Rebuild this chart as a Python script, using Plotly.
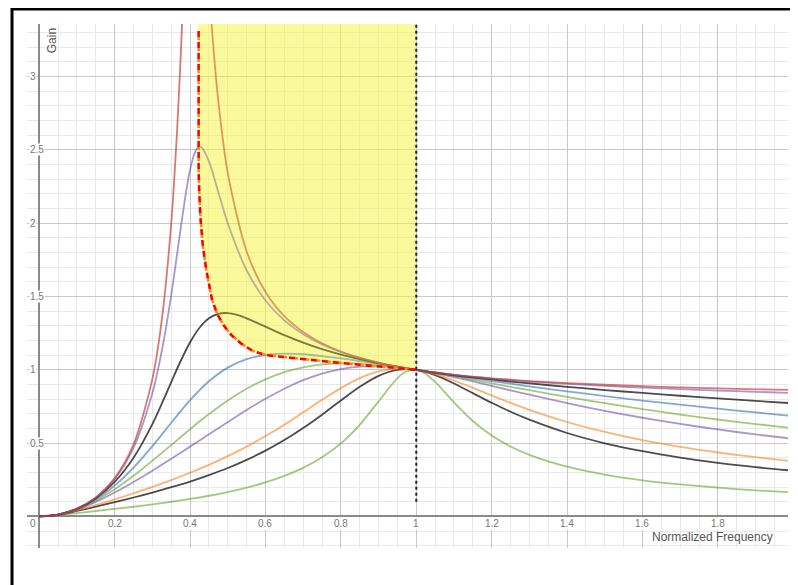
import plotly.graph_objects as go

# ---------------- data ----------------
X_STD = [0, 0.05, 0.1, 0.15, 0.2, 0.25, 0.3, 0.35, 0.4, 0.45, 0.5, 0.55, 0.6, 0.65, 0.7,
         0.75, 0.8, 0.85, 0.9, 0.95, 1.0, 1.05, 1.1, 1.15, 1.2, 1.25, 1.3, 1.4, 1.5, 1.6,
         1.7, 1.8, 1.9, 1.99]

red_x = [0, 0.05, 0.1, 0.15, 0.2, 0.25, 0.3, 0.325, 0.35, 0.365, 0.375, 0.38, 0.39, 0.4,
         0.408, 0.42, 0.43, 0.45, 0.46, 0.475, 0.5, 0.55, 0.6, 0.65, 0.7, 0.75, 0.8, 0.85,
         0.9, 0.95, 1.0, 1.05, 1.1, 1.15, 1.2, 1.25, 1.3, 1.4, 1.5, 1.6, 1.7, 1.8, 1.9, 1.99]
red_y = [0, 0.013, 0.053, 0.130, 0.261, 0.491, 0.938, 1.340, 2.0, 2.607, 3.132, 3.431, 4.065,
         4.632, 4.895, 4.83, 4.475, 3.616, 3.256, 2.829, 2.341, 1.807, 1.531, 1.366, 1.258,
         1.181, 1.125, 1.083, 1.049, 1.022, 1.0, 0.982, 0.966, 0.953, 0.942, 0.932, 0.923,
         0.909, 0.898, 0.888, 0.880, 0.873, 0.867, 0.863]

purple1_x = [0, 0.05, 0.1, 0.15, 0.2, 0.25, 0.3, 0.325, 0.35, 0.375, 0.39, 0.4, 0.41, 0.42,
             0.43, 0.45, 0.475, 0.5, 0.55, 0.6, 0.65, 0.7, 0.75, 0.8, 0.85, 0.9, 0.95, 1.0,
             1.05, 1.1, 1.15, 1.2, 1.25, 1.3, 1.4, 1.5, 1.6, 1.7, 1.8, 1.9, 1.99]
purple1_y = [0, 0.013, 0.053, 0.128, 0.255, 0.468, 0.841, 1.130, 1.510, 1.963, 2.224, 2.364,
             2.463, 2.514, 2.518, 2.421, 2.211, 2.0, 1.679, 1.473, 1.337, 1.242, 1.173, 1.121,
             1.081, 1.048, 1.022, 1.0, 0.982, 0.966, 0.952, 0.940, 0.930, 0.920, 0.904, 0.890,
             0.878, 0.868, 0.858, 0.850, 0.842]

black1_x = [0, 0.05, 0.1, 0.15, 0.2, 0.25, 0.3, 0.325, 0.35, 0.375, 0.4, 0.425, 0.45, 0.475,
            0.5, 0.525, 0.55, 0.6, 0.65, 0.7, 0.75, 0.8, 0.85, 0.9, 0.95, 1.0, 1.05, 1.1,
            1.15, 1.2, 1.25, 1.3, 1.4, 1.5, 1.6, 1.7, 1.8, 1.9, 1.99]
black1_y = [0, 0.013, 0.052, 0.123, 0.235, 0.400, 0.630, 0.769, 0.916, 1.060, 1.188, 1.287,
            1.351, 1.382, 1.387, 1.374, 1.351, 1.294, 1.236, 1.185, 1.141, 1.104, 1.073,
            1.045, 1.021, 1.0, 0.981, 0.964, 0.948, 0.934, 0.920, 0.907, 0.884, 0.862, 0.842,
            0.823, 0.805, 0.788, 0.773]

blue_y = [0, 0.013, 0.051, 0.116, 0.210, 0.332, 0.479, 0.639, 0.793, 0.922, 1.015, 1.073,
          1.101, 1.110, 1.106, 1.094, 1.078, 1.060, 1.040, 1.020, 1.0, 0.980, 0.961, 0.942,
          0.923, 0.905, 0.887, 0.853, 0.821, 0.790, 0.762, 0.735, 0.709, 0.687]

green1_y = [0, 0.012, 0.049, 0.108, 0.185, 0.277, 0.380, 0.487, 0.595, 0.698, 0.791, 0.871,
            0.935, 0.984, 1.017, 1.037, 1.044, 1.042, 1.033, 1.019, 1.0, 0.979, 0.956, 0.932,
            0.908, 0.884, 0.861, 0.815, 0.772, 0.732, 0.695, 0.661, 0.630, 0.604]

purple2_y = [0, 0.012, 0.047, 0.099, 0.163, 0.235, 0.312, 0.393, 0.476, 0.560, 0.644, 0.726,
             0.802, 0.871, 0.929, 0.974, 1.005, 1.021, 1.024, 1.017, 1.0, 0.977, 0.950, 0.921,
             0.891, 0.860, 0.830, 0.773, 0.720, 0.673, 0.631, 0.593, 0.559, 0.532]

orange_y = [0, 0.012, 0.041, 0.077, 0.117, 0.158, 0.202, 0.248, 0.298, 0.352, 0.411, 0.476,
            0.548, 0.626, 0.710, 0.795, 0.875, 0.943, 0.989, 1.008, 1.0, 0.970, 0.927, 0.877,
            0.825, 0.774, 0.727, 0.644, 0.576, 0.520, 0.474, 0.436, 0.404, 0.378]

black2_y = [0, 0.011, 0.037, 0.066, 0.097, 0.129, 0.163, 0.199, 0.238, 0.282, 0.330, 0.386,
            0.449, 0.521, 0.603, 0.694, 0.791, 0.884, 0.959, 1.0, 1.0, 0.964, 0.907, 0.841,
            0.775, 0.714, 0.660, 0.569, 0.499, 0.445, 0.401, 0.365, 0.336, 0.314]

green2_x = [0, 0.05, 0.1, 0.15, 0.2, 0.25, 0.3, 0.35, 0.4, 0.45, 0.5, 0.55, 0.6, 0.65, 0.7,
            0.75, 0.8, 0.85, 0.9, 0.95, 0.975, 1.0, 1.025, 1.05, 1.1, 1.15, 1.2, 1.25, 1.3,
            1.4, 1.5, 1.6, 1.7, 1.8, 1.9, 1.99]
green2_y = [0, 0.009, 0.023, 0.037, 0.051, 0.066, 0.082, 0.100, 0.119, 0.141, 0.166, 0.196,
            0.232, 0.276, 0.331, 0.403, 0.498, 0.625, 0.785, 0.943, 0.990, 1.0, 0.972, 0.917,
            0.778, 0.651, 0.552, 0.477, 0.420, 0.339, 0.285, 0.246, 0.218, 0.196, 0.178, 0.165]

# boundary (dashed) curve
bound_x = [0.4226, 0.4222, 0.4220, 0.4222, 0.4226, 0.4245, 0.428, 0.434, 0.443, 0.458,
           0.472, 0.49, 0.51, 0.535, 0.565, 0.60, 0.65, 0.70, 0.76, 0.85, 0.94, 1.0]
bound_y = [3.31, 3.0, 2.75, 2.5, 2.35, 2.2, 2.02, 1.84, 1.68, 1.48, 1.38, 1.30, 1.235, 1.18,
           1.13, 1.10, 1.085, 1.072, 1.057, 1.034, 1.016, 1.0]

# vertical reference line at resonance
ref_x = [1.0, 1.0]
ref_y = [0.1, 3.36]

x_ticks = [0, 0.2, 0.4, 0.6, 0.8, 1, 1.2, 1.4, 1.6, 1.8]
x_tick_labels = ["0", "0.2", "0.4", "0.6", "0.8", "1", "1.2", "1.4", "1.6", "1.8"]
y_ticks = [0.5, 1, 1.5, 2, 2.5, 3]
y_tick_labels = ["0.5", "1", "1.5", "2", "2.5", "3"]

X_RANGE = [-0.0326, 1.986]
Y_RANGE = [-0.2154, 3.3585]

FONT = "Liberation Sans, Arial, sans-serif"

fig = go.Figure()

# yellow region above boundary up to top of plot, bounded by x = 1
fill_x = bound_x + [1.0, 1.0, bound_x[0]]
fill_y = bound_y + [bound_y[-1], Y_RANGE[1] + 0.05, Y_RANGE[1] + 0.05]
fig.add_trace(go.Scatter(x=fill_x, y=fill_y, mode="lines", fill="toself",
                         fillcolor="rgba(246,244,60,0.31)", line=dict(width=0),
                         hoverinfo="skip", showlegend=False))

curves = [
    (green2_x, green2_y, "rgba(100,165,40,0.6)"),
    (X_STD, black2_y, "rgba(0,0,0,0.7)"),
    (X_STD, orange_y, "rgba(250,126,25,0.6)"),
    (X_STD, purple2_y, "rgba(96,66,166,0.55)"),
    (X_STD, green1_y, "rgba(100,165,40,0.6)"),
    (X_STD, blue_y, "rgba(45,112,179,0.6)"),
    (black1_x, black1_y, "rgba(0,0,0,0.7)"),
    (purple1_x, purple1_y, "rgba(96,66,166,0.55)"),
    (red_x, red_y, "rgba(199,68,64,0.72)"),
]
for cx, cy, col in curves:
    fig.add_trace(go.Scatter(x=cx, y=cy, mode="lines",
                             line=dict(color=col, width=1.8, shape="spline", smoothing=0.8),
                             hoverinfo="skip", showlegend=False))

# translucent yellow veil over the curves inside the region
fig.add_trace(go.Scatter(x=fill_x, y=fill_y, mode="lines", fill="toself",
                         fillcolor="rgba(246,244,60,0.28)", line=dict(width=0),
                         hoverinfo="skip", showlegend=False))

# dashed boundary: orange + red interleaved dashes
fig.add_trace(go.Scatter(x=bound_x, y=bound_y, mode="lines",
                         line=dict(color="#ff8a00", width=2.6, dash="0px,6px,3px,2px"),
                         hoverinfo="skip", showlegend=False))
fig.add_trace(go.Scatter(x=bound_x, y=bound_y, mode="lines",
                         line=dict(color="#ff0000", width=2.6, dash="6px,5px"),
                         hoverinfo="skip", showlegend=False))

# vertical dotted line
fig.add_trace(go.Scatter(x=ref_x, y=ref_y, mode="lines",
                         line=dict(color="#222222", width=2, dash="dot"),
                         hoverinfo="skip", showlegend=False))

annotations = []
for v, t in zip(x_ticks, x_tick_labels):
    if v == 0:
        annotations.append(dict(x=0, xref="paper", y=0, yref="y", text=t, showarrow=False,
                                xanchor="left", yanchor="top", xshift=2, yshift=-1,
                                font=dict(family=FONT, size=10, color="#777777"),
                                bgcolor="white", borderpad=0))
    else:
        annotations.append(dict(x=v, xref="x", y=0, yref="y", text=t, showarrow=False,
                                xanchor="center", yanchor="top", yshift=-1,
                                font=dict(family=FONT, size=10, color="#777777"),
                                bgcolor="white", borderpad=0))
for v, t in zip(y_ticks, y_tick_labels):
    annotations.append(dict(x=0, xref="paper", y=v, yref="y", text=t, showarrow=False,
                            xanchor="left", yanchor="middle", xshift=2,
                            font=dict(family=FONT, size=10, color="#777777"),
                            bgcolor="white", borderpad=0))

annotations.append(dict(x=0.0332, xref="paper", y=0.9676, yref="paper", text="Gain",
                        showarrow=False, textangle=-90, xanchor="center", yanchor="middle",
                        font=dict(family=FONT, size=12, color="#555555")))
annotations.append(dict(x=0.9833, xref="paper", y=0.0216, yref="paper",
                        text="Normalized Frequency", showarrow=False,
                        xanchor="right", yanchor="middle",
                        font=dict(family=FONT, size=12, color="#555555")))

# the page body adds an 8px offset, so the figure is sized/margined to compensate
fig.update_layout(
    width=790, height=577,
    margin=dict(l=19, r=10, t=16, b=37),
    paper_bgcolor="white", plot_bgcolor="white",
    showlegend=False,
    annotations=annotations,
    shapes=[dict(type="rect", xref="paper", yref="paper", x0=-0.0197, x1=1.06,
                 y0=-0.2, y1=1.0285, line=dict(color="black", width=3),
                 fillcolor="rgba(0,0,0,0)", layer="above")],
    xaxis=dict(range=X_RANGE, tick0=0, dtick=0.2, showticklabels=False, ticks="",
               showgrid=True, gridcolor="#c8c8c8", gridwidth=1,
               zeroline=True, zerolinecolor="#8a8a8a", zerolinewidth=1.5,
               showline=False,
               minor=dict(dtick=0.05, showgrid=True, gridcolor="#e9e9e9", gridwidth=1)),
    yaxis=dict(range=Y_RANGE, tick0=0, dtick=0.5, showticklabels=False, ticks="",
               showgrid=True, gridcolor="#c8c8c8", gridwidth=1,
               zeroline=True, zerolinecolor="#8a8a8a", zerolinewidth=1.5,
               showline=False,
               minor=dict(dtick=0.1, showgrid=True, gridcolor="#e9e9e9", gridwidth=1)),
)

fig.write_html("out.html")
